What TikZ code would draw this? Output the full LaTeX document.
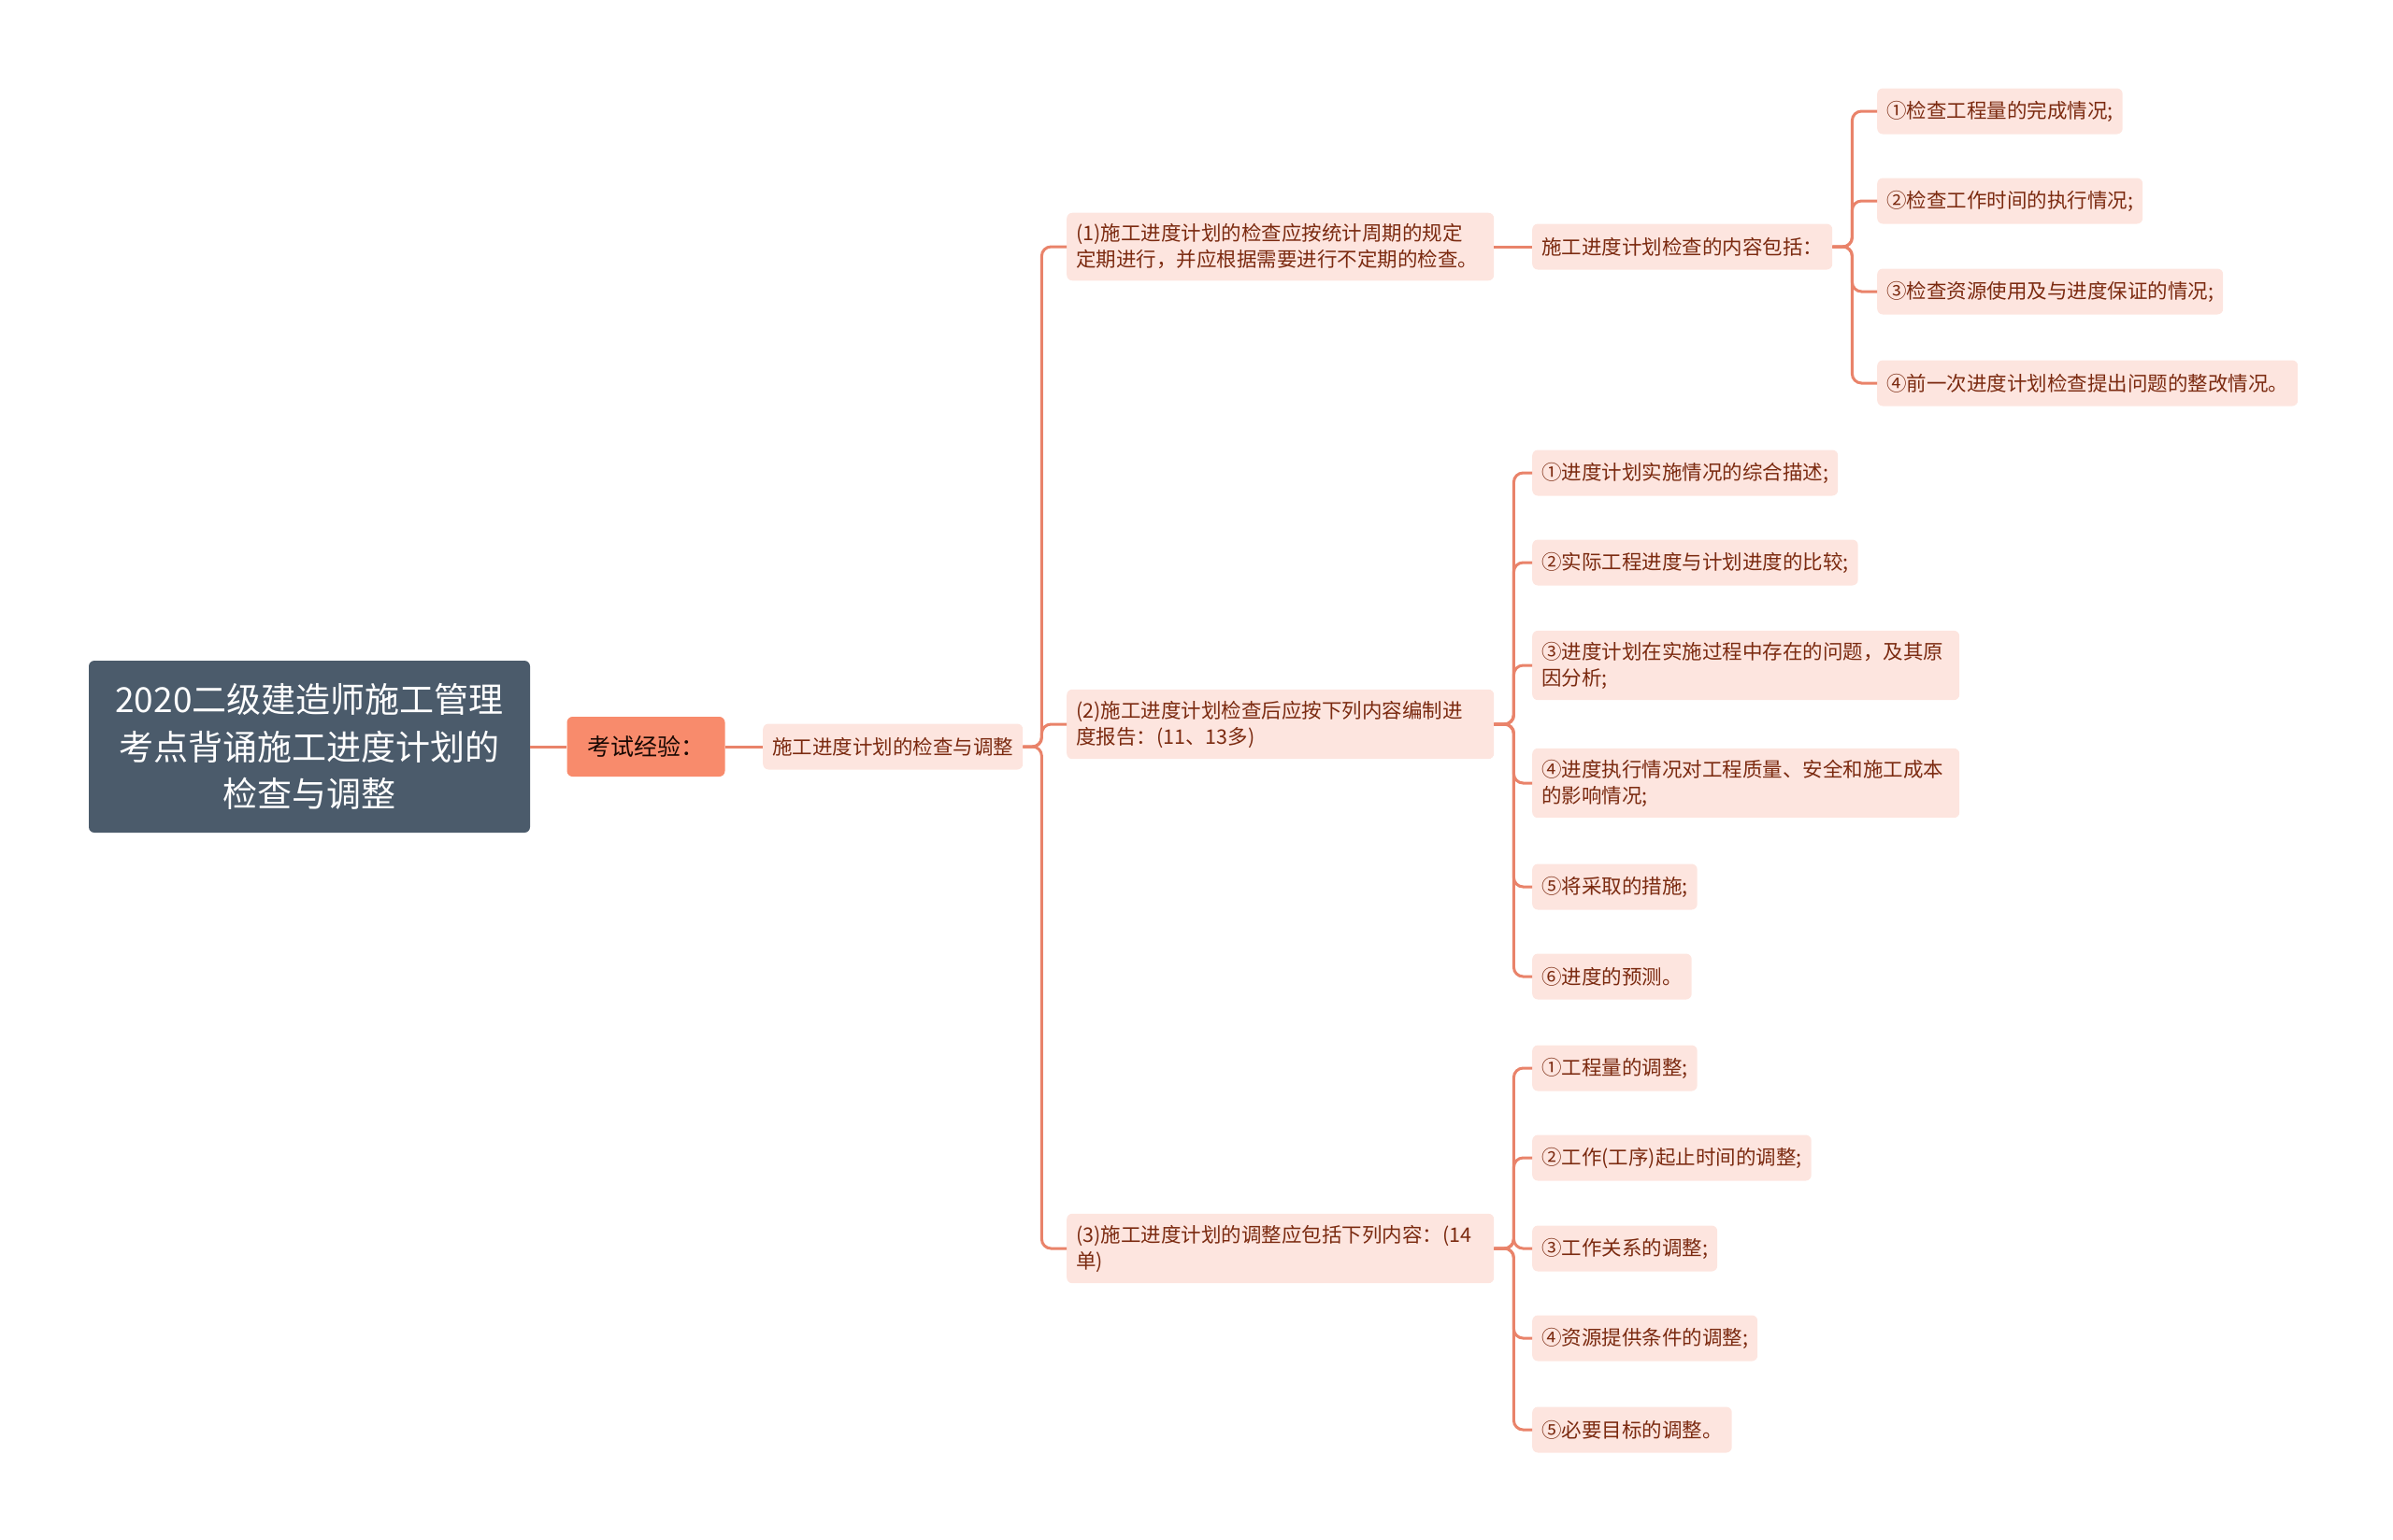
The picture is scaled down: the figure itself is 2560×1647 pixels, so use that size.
\documentclass[tikz,border=0pt]{standalone}
\usepackage{fontspec}
\setmainfont{Noto Sans CJK SC}
\definecolor{rootfill}{HTML}{4B5B6B}
\definecolor{tagfill}{HTML}{F88B6C}
\definecolor{leaffill}{HTML}{FDE5DF}
\definecolor{linkcol}{HTML}{E9836A}
\definecolor{leaftext}{HTML}{7B2A10}
\tikzset{
  leaf/.style={fill=leaffill, text=leaftext, rounded corners=6pt, inner xsep=10pt, inner ysep=12pt,
    minimum height=49pt, font=\fontsize{21.5}{28}\selectfont, align=left, anchor=west},
  wideleaf/.style={leaf, text width=437pt},
  link/.style={draw=linkcol, line width=3pt, rounded corners=10pt}
}
\begin{document}
\begin{tikzpicture}[x=1pt, y=-1pt]
\useasboundingbox (0, 0) rectangle (2560, 1647);
\node[fill=rootfill, text=white, rounded corners=6pt, minimum width=472pt, minimum height=184pt, align=center, font=\fontsize{37}{50.6}\selectfont] (root) at (331, 799) {2020二级建造师施工管理\\考点背诵施工进度计划的\\检查与调整};
\node[fill=tagfill, text=black!80!leaftext, rounded corners=6pt, minimum width=169pt, minimum height=64pt, font=\fontsize{25}{30}\selectfont] (exam) at (691, 799) {考试经验：};
\node[leaf] (check) at (816, 799) {施工进度计划的检查与调整};
\draw[link] (root.east) -- (exam.west);
\draw[link] (exam.east) -- (check.west);

\node[wideleaf] (p1) at (1141, 264) {(1)施工进度计划的检查应按统计周期的规定\\定期进行，并应根据需要进行不定期的检查。};
\node[wideleaf] (p2) at (1141, 775) {(2)施工进度计划检查后应按下列内容编制进\\度报告：(11、13多)};
\node[wideleaf] (p3) at (1141, 1336) {(3)施工进度计划的调整应包括下列内容：(14\\单)};
\draw[link] (check.east) -- ++(20, 0) |- (p1.west);
\draw[link] (check.east) -- ++(20, 0) |- (p2.west);
\draw[link] (check.east) -- ++(20, 0) |- (p3.west);

\node[leaf] (items) at (1639, 264) {施工进度计划检查的内容包括：};
\draw[link] (p1.east) -- (items.west);
\node[leaf] (a1) at (2008, 119) {①检查工程量的完成情况;};
\node[leaf] (a2) at (2008, 215) {②检查工作时间的执行情况;};
\node[leaf] (a3) at (2008, 312) {③检查资源使用及与进度保证的情况;};
\node[leaf] (a4) at (2008, 410) {④前一次进度计划检查提出问题的整改情况。};
\foreach \n in {a1, a2, a3, a4}
  \draw[link] (items.east) -- ++(21, 0) |- (\n.west);

\node[leaf] (b1) at (1639, 506) {①进度计划实施情况的综合描述;};
\node[leaf] (b2) at (1639, 602) {②实际工程进度与计划进度的比较;};
\node[wideleaf] (b3) at (1639, 712) {③进度计划在实施过程中存在的问题，及其原\\因分析;};
\node[wideleaf] (b4) at (1639, 838) {④进度执行情况对工程质量、安全和施工成本\\的影响情况;};
\node[leaf] (b5) at (1639, 949) {⑤将采取的措施;};
\node[leaf] (b6) at (1639, 1045) {⑥进度的预测。};
\foreach \n in {b1, b2, b3, b4, b5, b6}
  \draw[link] (p2.east) -- ++(21, 0) |- (\n.west);

\node[leaf] (c1) at (1639, 1143) {①工程量的调整;};
\node[leaf] (c2) at (1639, 1239) {②工作(工序)起止时间的调整;};
\node[leaf] (c3) at (1639, 1336) {③工作关系的调整;};
\node[leaf] (c4) at (1639, 1432) {④资源提供条件的调整;};
\node[leaf] (c5) at (1639, 1530) {⑤必要目标的调整。};
\foreach \n in {c1, c2, c3, c4, c5}
  \draw[link] (p3.east) -- ++(21, 0) |- (\n.west);
\end{tikzpicture}
\end{document}
